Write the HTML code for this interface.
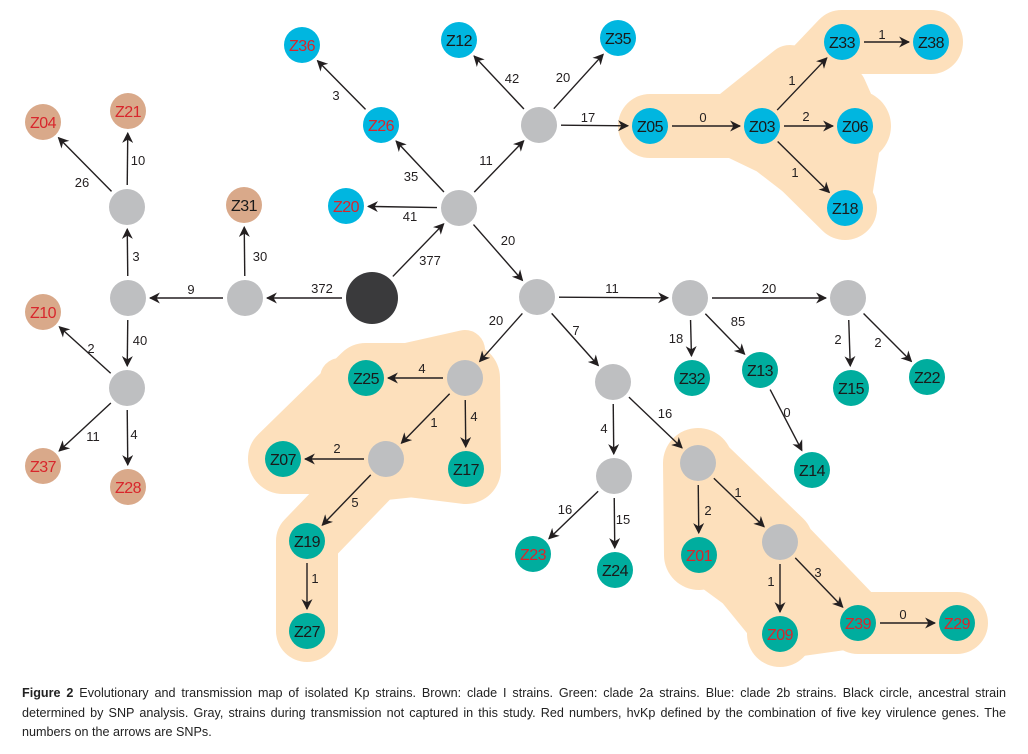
<!DOCTYPE html>
<html><head><meta charset="utf-8"><style>
html,body{margin:0;padding:0;background:#fff;width:1028px;height:754px;overflow:hidden}
svg{position:absolute;left:0;top:0}
.cap{position:absolute;left:22px;top:684px;width:984px;font-family:"Liberation Sans Narrow","Liberation Sans",sans-serif;font-size:12.6px;line-height:19.5px;color:#222;text-align:justify}
</style></head><body>
<svg id="s" width="1028" height="680" viewBox="0 0 1028 680" font-family="Liberation Sans, sans-serif">
<defs><marker id="a" viewBox="0 0 10 10" refX="9" refY="5" markerWidth="11" markerHeight="11" markerUnits="userSpaceOnUse" orient="auto"><path d="M0,0 L10,5 L0,10 L3,5 Z" fill="#231f20"/></marker></defs>
<g id="blobs" fill="#fde0bc" stroke="#fde0bc" stroke-linejoin="round" stroke-linecap="round">
<polyline points="650,126 762,126 842,42 931,42" fill="none" stroke-width="64"/>
<polyline points="762,126 855,126" fill="none" stroke-width="72"/>
<polyline points="762,126 845,208" fill="none" stroke-width="64"/>
<polygon points="720,126 790,70 842,90 858,126 845,208 770,150" stroke-width="50"/>
<polygon points="366,378 465,378 466,469 386,459 283,459" stroke-width="70"/>
<polygon points="340,378 465,350 480,470 386,480" stroke-width="40"/>
<polyline points="386,459 307,541 307,631" fill="none" stroke-width="62"/>
<polyline points="698,463 699,555" fill="none" stroke-width="70"/>
<polyline points="698,463 780,542 780,634" fill="none" stroke-width="66"/>
<polyline points="780,542 858,623 957,623" fill="none" stroke-width="62"/>
<polygon points="698,463 780,542 858,623 780,634 740,585 699,555" stroke-width="50"/>
</g>
<g id="edges" stroke="#231f20" stroke-width="1.4" fill="none"></g>
<g id="nodes"></g>
<g id="labels" font-size="13" fill="#231f20"></g>
</svg>
<div class="cap"><b>Figure 2</b> Evolutionary and transmission map of isolated Kp strains. Brown: clade I strains. Green: clade 2a strains. Blue: clade 2b strains. Black circle, ancestral strain determined by SNP analysis. Gray, strains during transmission not captured in this study. Red numbers, hvKp defined by the combination of five key virulence genes. The numbers on the arrows are SNPs.</div>
<script>
var N={
Z04:[43,122,'b','r'],Z21:[128,111,'b','r'],Z31:[244,205,'b','k'],Z10:[43,312,'b','r'],Z37:[43,466,'b','r'],Z28:[128,487,'b','r'],
g1:[127,207,'g'],g2:[128,298,'g'],g3:[245,298,'g'],g4:[127,388,'g'],BK:[372,298,'x'],
gc:[459,208,'g'],Z20:[346,206,'u','r'],Z26:[381,125,'u','r'],Z36:[302,45,'u','r'],Z12:[459,40,'u','k'],Z35:[618,38,'u','k'],gt:[539,125,'g'],
Z05:[650,126,'u','k'],Z03:[762,126,'u','k'],Z33:[842,42,'u','k'],Z38:[931,42,'u','k'],Z06:[855,126,'u','k'],Z18:[845,208,'u','k'],
gm:[537,297,'g'],gr:[690,298,'g'],gf:[848,298,'g'],Z32:[692,378,'t','k'],Z13:[760,370,'t','k'],Z15:[851,388,'t','k'],Z22:[927,377,'t','k'],Z14:[812,470,'t','k'],
ga:[465,378,'g'],Z25:[366,378,'t','k'],gb:[386,459,'g'],Z07:[283,459,'t','k'],Z17:[466,469,'t','k'],Z19:[307,541,'t','k'],Z27:[307,631,'t','k'],
gd:[613,382,'g'],ge:[614,476,'g'],Z23:[533,554,'t','r'],Z24:[615,570,'t','k'],gh:[698,463,'g'],gi:[780,542,'g'],Z01:[699,555,'t','r'],Z09:[780,634,'t','r'],Z39:[858,623,'t','r'],Z29:[957,623,'t','r']};
var E=[
['BK','g3','372',322,288],['g3','g2','9',191,289],['g3','Z31','30',260,256],['g2','g1','3',136,256],['g1','Z21','10',138,160],['g1','Z04','26',82,182],
['g2','g4','40',140,340],['g4','Z10','2',91,348],['g4','Z37','11',93,436],['g4','Z28','4',134,434],
['BK','gc','377',430,260],['gc','Z20','41',410,216],['gc','Z26','35',411,176],['Z26','Z36','3',336,95],['gc','gt','11',486,160],['gt','Z12','42',512,78],['gt','Z35','20',563,77],
['gt','Z05','17',588,117],['Z05','Z03','0',703,117],['Z03','Z33','1',792,80],['Z33','Z38','1',882,34],['Z03','Z06','2',806,116],['Z03','Z18','1',795,172],
['gc','gm','20',508,240],['gm','gr','11',612,288],['gr','gf','20',769,288],['gr','Z32','18',676,338],['gr','Z13','85',738,321],['Z13','Z14','0',787,412],['gf','Z15','2',838,339],['gf','Z22','2',878,342],
['gm','ga','20',496,320],['ga','Z25','4',422,368],['ga','gb','1',434,422],['ga','Z17','4',474,416],['gb','Z07','2',337,448],['gb','Z19','5',355,502],['Z19','Z27','1',315,578],
['gm','gd','7',576,330],['gd','ge','4',604,428],['gd','gh','16',665,413],['ge','Z23','16',565,509],['ge','Z24','15',623,519],['gh','Z01','2',708,510],['gh','gi','1',738,492],['gi','Z09','1',771,581],['gi','Z39','3',818,572],['Z39','Z29','0',903,614]];
var ns='http://www.w3.org/2000/svg';
function el(t,a,p,txt){var e=document.createElementNS(ns,t);for(var k in a)e.setAttribute(k,a[k]);if(txt)e.textContent=txt;document.getElementById(p).appendChild(e);return e;}
function R(n){return N[n][2]=='x'?26:18;}
E.forEach(function(e){var s=N[e[0]],t=N[e[1]],dx=t[0]-s[0],dy=t[1]-s[1],d=Math.sqrt(dx*dx+dy*dy),ux=dx/d,uy=dy/d;
var a=R(e[0])+4,b=R(e[1])+4;
el('line',{x1:s[0]+ux*a,y1:s[1]+uy*a,x2:t[0]-ux*b,y2:t[1]-uy*b,'marker-end':'url(#a)'},'edges');
el('text',{x:e[3],y:e[4]+5,'text-anchor':'middle'},'labels',e[2]);});
var C={b:'#d9a98a',g:'#bebfc1',x:'#3a3a3c',u:'#00b6e0',t:'#00ad9e'};
for(var k in N){var n=N[k];el('circle',{cx:n[0],cy:n[1],r:R(k),fill:C[n[2]]},'nodes');
if(k[0]=='Z')el('text',{x:n[0],y:n[1]+6,'text-anchor':'middle','font-size':'16',fill:n[3]=='r'?'#d8262c':'#1a1a1a','letter-spacing':'-0.5'},'nodes',k);}
</script>
</body></html>
